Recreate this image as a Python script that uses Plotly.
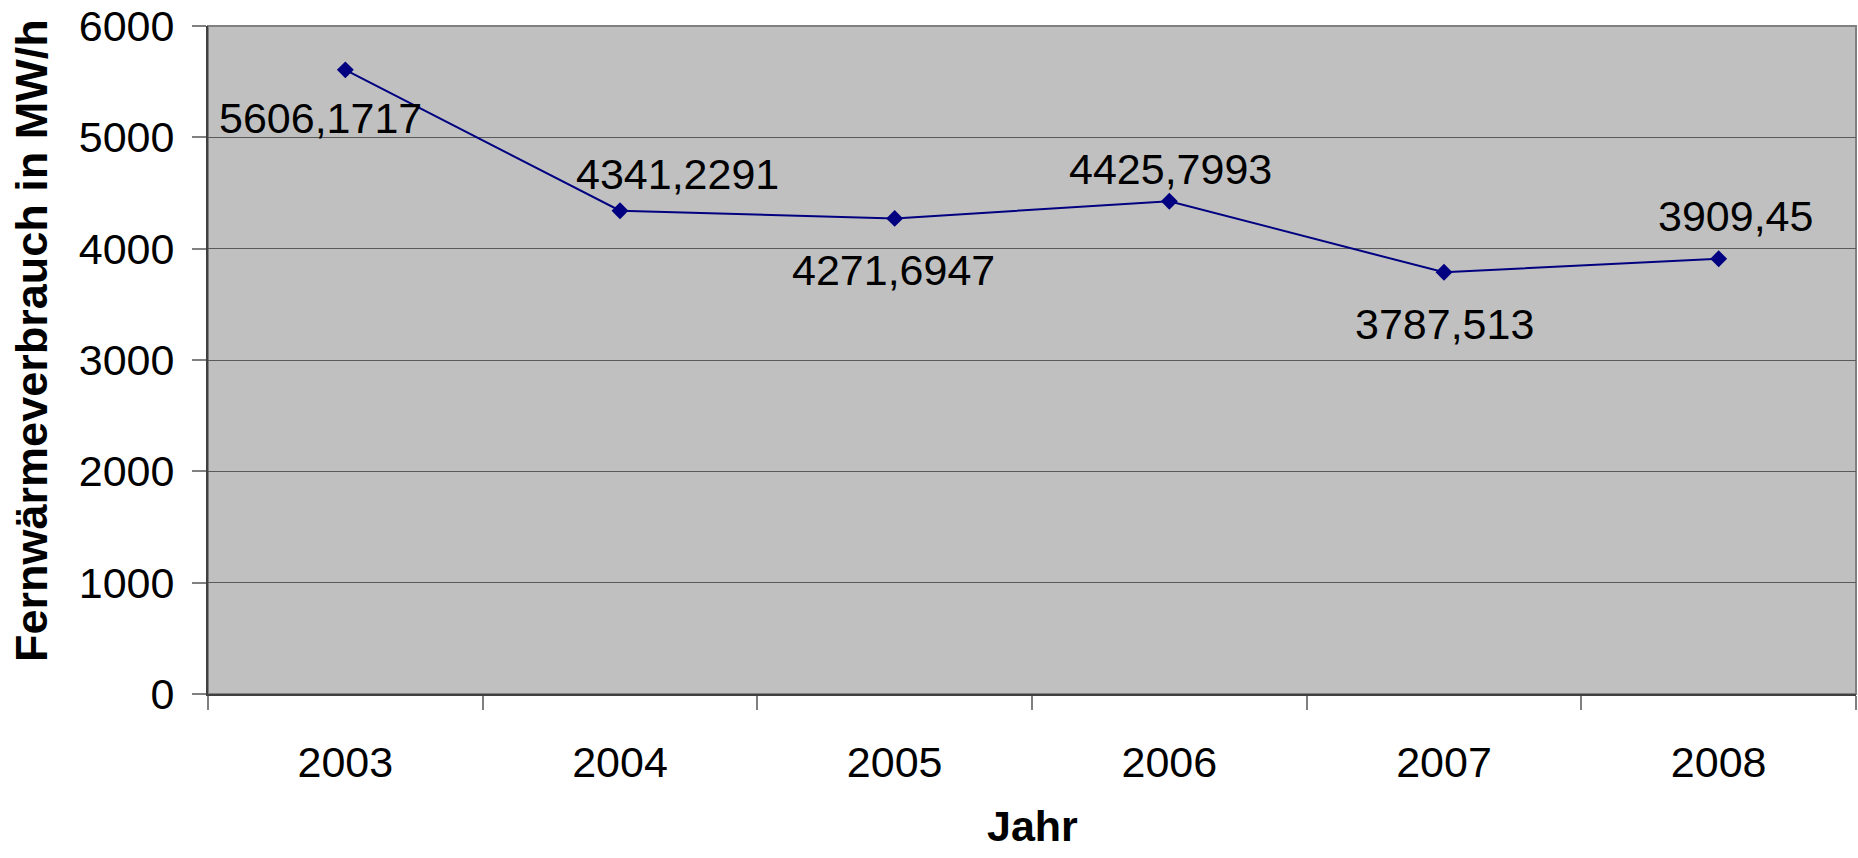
import plotly.graph_objects as go

# District heating consumption per year
jahre = ["2003", "2004", "2005", "2006", "2007", "2008"]
verbrauch = [5606.1717, 4341.2291, 4271.6947, 4425.7993, 3787.513, 3909.45]
beschriftung = ["5606,1717", "4341,2291", "4271,6947", "4425,7993", "3787,513", "3909,45"]

# pixel offsets of each value label relative to its point (x right, y up)
label_dx = [-25, 57, -1, 1, 0, 17]
label_dy = [-48, 37, -52, 32, -52, 43]

FONT = "Liberation Sans, Arial, sans-serif"

fig = go.Figure()
fig.add_trace(go.Scatter(
    x=jahre, y=verbrauch, mode="lines+markers",
    line=dict(color="#000080", width=2),
    marker=dict(symbol="diamond", size=13, color="#000080"),
    hoverinfo="skip", showlegend=False,
))

annotations = []
# category positions are given by index so "2003" is not read as a position
for i, (y, t, dx, dy) in enumerate(zip(verbrauch, beschriftung, label_dx, label_dy)):
    annotations.append(dict(
        x=i, y=y, xref="x", yref="y", text=t, showarrow=False,
        xshift=dx, yshift=dy, xanchor="center", yanchor="middle",
        font=dict(family=FONT, size=43, color="#000000"),
    ))

annotations.append(dict(
    text="<b>Fernwärmeverbrauch in MW/h</b>", xref="paper", yref="paper",
    x=-0.1068, y=0.53, xanchor="center", yanchor="middle", textangle=-90,
    showarrow=False, font=dict(family=FONT, size=45, color="#000000"),
))
annotations.append(dict(
    text="<b>Jahr</b>", xref="paper", yref="paper",
    x=0.5, y=-0.198, xanchor="center", yanchor="middle",
    showarrow=False, font=dict(family=FONT, size=43, color="#000000"),
))

fig.update_layout(
    width=1858, height=858,
    margin=dict(l=208, r=2, t=21, b=164),
    paper_bgcolor="#FFFFFF", plot_bgcolor="#C0C0C0",
    annotations=annotations,
    shapes=[dict(type="rect", xref="paper", yref="paper", x0=0, x1=1, y0=0, y1=1,
                 line=dict(color="#808080", width=2), layer="below")],
)

fig.update_xaxes(
    type="category", categoryorder="array", categoryarray=jahre,
    range=[-0.5, len(jahre) - 0.5], tickson="boundaries",
    ticks="outside", ticklen=14, tickwidth=2, tickcolor="#808080",
    showline=True, linecolor="#404040", linewidth=2,
    showgrid=False, zeroline=False, tickangle=0,
    tickfont=dict(family=FONT, size=43, color="#000000"),
    ticklabelstandoff=29,
)
fig.update_yaxes(
    range=[0, 6000.001], tickvals=[0, 1000, 2000, 3000, 4000, 5000, 6000],
    ticks="outside", ticklen=14, tickwidth=2, tickcolor="#808080",
    showline=True, linecolor="#404040", linewidth=2,
    showgrid=True, gridcolor="#5A5A5A", gridwidth=1,
    zeroline=False, ticklabeloverflow="allow",
    tickfont=dict(family=FONT, size=43, color="#000000"),
    ticklabelstandoff=9,
)

fig.write_html("out.html")
